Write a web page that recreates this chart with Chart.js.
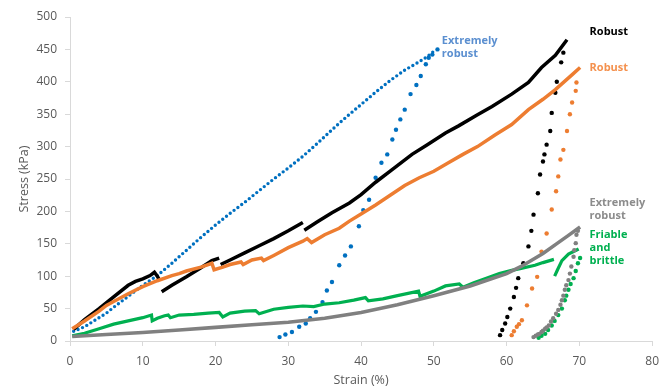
<!DOCTYPE html>
<html>
<head>
<meta charset="utf-8">
<script src="https://cdn.jsdelivr.net/npm/chart.js@4"></script>
<style>
  html, body { margin: 0; padding: 0; background: #fff; }
  #wrap { width: 667px; height: 388px; }
</style>
</head>
<body>
<div id="wrap"><canvas id="myChart"></canvas></div>
<script>
// strain (%) / stress (kPa) pairs
var blueLoading = [[0.5,15],[2,22],[4,36],[5,43],[6,52],[8,69],[10,86],[12,101],[14,120],[16,140],[18,160],[20,179],[22,197],[24,214],[26,232],[28,250],[30,267],[32,285],[34,305],[36,326],[38,346],[40,365],[42,384],[44,402],[46,418],[48,431],[49,438],[50.3,450]];
var blueUnloading = [[50.5,450],[49.8,442],[49.3,437],[48.9,427],[48.2,409],[47.6,395],[46.8,381],[46,357],[45.4,342],[44.8,326],[44.3,311],[43.6,288],[42.8,275],[42,252],[41.1,218],[40.3,202],[39.7,177],[38.6,146],[37.8,132],[37,117],[36,91],[35.3,78],[34.7,60],[33.8,45],[33,35],[32.4,27],[31.5,22],[30.5,14],[29.6,10],[28.8,6]];

var blackSeg1 = [[0.5,18],[2,33],[4,50],[6,68],[8,86],[9,92],[10,96],[11,101],[11.6,106],[12,100],[12.3,94]];
var blackSeg2 = [[12.6,76],[14,86],[16,99],[18,113],[19.5,124],[20.5,128]];
var blackSeg3 = [[20.7,118],[22,125],[24,136],[26,147],[28,158],[30,170],[32,183]];
var blackSeg4 = [[32.2,171],[34,184],[36,198],[38.4,213],[40,226],[42,245],[44,262],[47,288],[49,302],[51.6,321],[53.4,332],[56,349],[58,362],[60.7,381],[63,399],[64.8,422],[66.7,441],[68.3,465]];
var blackUnloading = [[67.8,445],[67.5,430],[66.9,400],[66.7,383],[66.2,352],[66,324],[65.5,303],[65.2,288],[65,277],[64.6,257],[64.3,228],[63.7,195],[63.4,170],[63,146],[62.3,120],[61.6,97],[61.3,82],[61,68],[60.5,50],[60.1,37],[59.8,27],[59.4,17],[59.1,9]];

var orangeLoading = [[0.3,19],[2,31],[4,46],[5,55],[6,61],[8,73],[10,84],[12,93],[14,101],[15,104],[16,108],[18,114],[19.5,120],[19.8,110],[21,114],[22,118],[23.5,122],[23.8,118],[25,125],[26.3,128],[26.6,124],[28,132],[30,144],[32,154],[32.6,158],[33.2,152],[35,164],[37,174],[38.4,185],[40,196],[42,210],[44,225],[46,240],[48,252],[50,262],[52,275],[54,288],[56,300],[58.4,318],[60.7,334],[63,357],[65,373],[66.7,388],[68.9,410],[70.1,422]];
var orangeUnloading = [[69.6,399],[69.5,386],[69,368],[68.7,350],[68.3,324],[67.8,295],[67.4,280],[67.1,254],[66.8,231],[66.2,203],[65.5,166],[64.8,138],[64.2,99],[63.5,81],[62.8,55],[62.1,32],[61.7,26],[61.4,22],[61,15],[60.7,9]];

var grayLoading = [[0.3,7],[5,10],[10,13],[15,17],[20,21],[25,25],[30,29],[35,35],[40,44],[45,56],[50,70],[55,85],[60,104],[62,115],[65,135],[67,151],[68.5,163],[70.1,176]];
var grayUnloading = [[69.8,170],[69.6,164],[69.5,151],[69.3,140],[69.2,130],[68.9,115],[68.7,104],[68.5,94],[68.2,86],[68,79],[67.8,70],[67.6,63],[67.4,56],[67.1,48],[66.8,42],[66.4,35],[66.1,30],[65.8,24],[65.5,21],[65.3,19],[65,16],[64.8,14],[64.5,11],[64.3,10],[64,8],[63.7,6]];

var greenLoading = [[0.3,8],[2,12],[4,19],[6,26],[8,31],[10,36],[11.2,40],[11.3,31],[12,35],[13,39],[13.5,40],[13.8,36],[15,40],[17,41],[19,43],[20.5,44],[21,37],[22,43],[24,46],[25.5,47],[26,42],[28,49],[30,52],[32,54],[33.5,53],[35,57],[37,59],[39,63],[40.6,67],[41,62],[43,65],[45,70],[47.9,77],[48.1,69],[50,77],[51.6,85],[53.5,88],[54,83],[55.5,90],[57.5,98],[59,104],[60.7,109],[62,112],[63.9,117],[65,121],[66.5,126]];
var greenLoading2 = [[66.6,100],[67,110],[67.6,124],[68.5,134],[69.9,142]];
var greenUnloading = [[70.1,128],[69.8,120],[69.5,108],[69.2,97],[68.8,88],[68.5,79],[68.2,70],[68,63],[67.6,50],[67.1,40],[66.6,31],[66.2,24],[65.7,17],[65.3,11],[64.8,8],[64.4,5]];

var xTicksMax = 80;
var yTicksMax = 500;

function toXY(arr) {
  return arr.map(function (p) { return { x: p[0], y: p[1] }; });
}

function curve(arr, color, width) {
  return {
    data: toXY(arr),
    showLine: true,
    borderColor: color,
    borderWidth: width,
    pointRadius: 0,
    tension: 0
  };
}

function dots(arr, color) {
  return {
    data: toXY(arr),
    showLine: false,
    backgroundColor: color,
    borderWidth: 0,
    pointRadius: 2.2
  };
}

var blueDotted = curve(blueLoading, "#0070C0", 3.4);
blueDotted.borderDash = [0, 4.8];
blueDotted.borderCapStyle = "round";

// text labels next to the curves (strain, stress of first line)
var curveLabels = [
  { lines: ["Extremely", "robust"], x: 51.1, y: 463, color: "#5B8FD0" },
  { lines: ["Robust"], x: 71.4, y: 477, color: "#000000" },
  { lines: ["Robust"], x: 71.4, y: 422, color: "#F4914E" },
  { lines: ["Extremely", "robust"], x: 71.4, y: 213, color: "#8C8C8C" },
  { lines: ["Friable", "and", "brittle"], x: 71.4, y: 164, color: "#00B050" }
];

var labelPlugin = {
  id: "curveLabels",
  afterDatasetsDraw: function (chart) {
    var ctx = chart.ctx;
    var xs = chart.scales.x, ys = chart.scales.y;
    ctx.save();
    ctx.font = "bold 11px 'Open Sans'";
    ctx.textBaseline = "middle";
    ctx.textAlign = "left";
    curveLabels.forEach(function (l) {
      ctx.fillStyle = l.color;
      var px = xs.getPixelForValue(l.x);
      var py = ys.getPixelForValue(l.y);
      l.lines.forEach(function (t, i) {
        ctx.fillText(t, px, py + i * 13);
      });
    });
    ctx.restore();
  }
};

new Chart("myChart", {
  type: "scatter",
  data: {
    datasets: [
      curve(grayLoading, "#808080", 3.6),
      dots(grayUnloading, "#808080"),
      curve(greenLoading, "#00B050", 3.2),
      curve(greenLoading2, "#00B050", 3.2),
      dots(greenUnloading, "#00B050"),
      curve(orangeLoading, "#ED7D31", 3.5),
      dots(orangeUnloading, "#ED7D31"),
      curve(blackSeg1, "#000000", 3.5),
      curve(blackSeg2, "#000000", 3.5),
      curve(blackSeg3, "#000000", 3.5),
      curve(blackSeg4, "#000000", 3.5),
      dots(blackUnloading, "#000000"),
      blueDotted,
      dots(blueUnloading, "#0070C0")
    ]
  },
  options: {
    responsive: true,
    maintainAspectRatio: false,
    animation: false,
    layout: { padding: { left: 0, right: 13, top: 17, bottom: 0 } },
    plugins: {
      legend: { display: false },
      tooltip: { enabled: false }
    },
    scales: {
      x: {
        min: 0,
        max: xTicksMax,
        ticks: { stepSize: 10, color: "#595959", padding: 8, font: { family: "Open Sans", size: 12 } },
        grid: { drawOnChartArea: false, tickLength: 5, color: "#D9D9D9" },
        border: { color: "#D9D9D9" },
        title: { display: true, text: "Strain (%)", color: "#595959", padding: 0, font: { family: "Open Sans", size: 12.5 } },
        afterFit: function (s) { s.height = 47; }
      },
      y: {
        min: 0,
        max: yTicksMax,
        ticks: { stepSize: 50, color: "#595959", padding: 8, font: { family: "Open Sans", size: 12 } },
        grid: { drawOnChartArea: false, tickLength: 5, color: "#D9D9D9" },
        border: { color: "#D9D9D9" },
        title: { display: true, text: "Stress (kPa)", color: "#595959", padding: { top: 17, bottom: 0 }, font: { family: "Open Sans", size: 12.5 } },
        afterFit: function (s) { s.width = 70; }
      }
    }
  },
  plugins: [labelPlugin]
});
</script>
</body>
</html>
